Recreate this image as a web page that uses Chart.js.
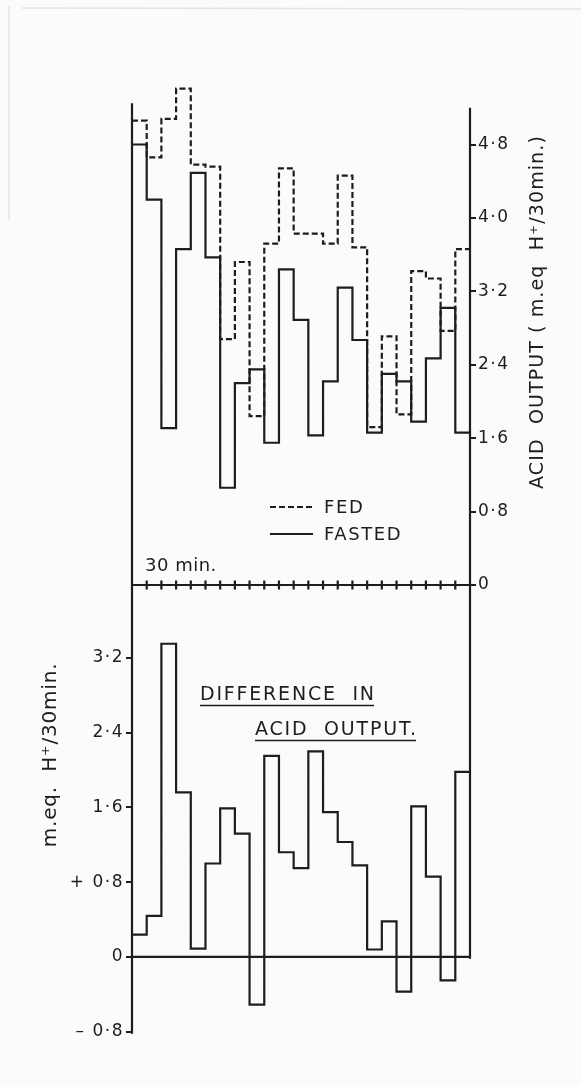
<!DOCTYPE html>
<html>
<head>
<meta charset="utf-8">
<script src="https://cdn.jsdelivr.net/npm/chart.js@4"></script>
<style>
  html, body { margin: 0; padding: 0; background: #fbfbfa; }
  canvas { display: block; }
</style>
</head>
<body>
<canvas id="chart" width="581" height="1086"></canvas>
<script>
// number of 30 min collection periods
const periods = 23;

// acid output per period, m.eq. H+ / 30 min
const fed        = [5.06, 4.66, 5.08, 5.41, 4.58, 4.56, 2.68, 3.52, 1.84, 3.72, 4.54, 3.83, 3.83, 3.72, 4.46, 3.68, 1.72, 2.71, 1.86, 3.42, 3.34, 2.77, 3.66];
const fasted     = [4.80, 4.20, 1.71, 3.66, 4.49, 3.57, 1.06, 2.20, 2.35, 1.55, 3.44, 2.89, 1.63, 2.22, 3.24, 2.67, 1.66, 2.30, 2.22, 1.78, 2.47, 3.02, 1.66];
const difference = [0.24, 0.44, 3.35, 1.76, 0.09, 1.00, 1.59, 1.32, -0.51, 2.15, 1.12, 0.95, 2.20, 1.55, 1.23, 0.98, 0.08, 0.38, -0.37, 1.61, 0.86, -0.25, 1.98];

const outputTicks      = [0, 0.8, 1.6, 2.4, 3.2, 4.0, 4.8];
const outputTickLabels = ['0', '0·8', '1·6', '2·4', '3·2', '4·0', '4·8'];
const diffTicks        = [-0.8, 0, 0.8, 1.6, 2.4, 3.2];
const diffTickLabels   = ['– 0·8', '0', '+ 0·8', '1·6', '2·4', '3·2'];

const INK = '#1d1d1d';
const FONT = '"DejaVu Sans", sans-serif';

// step line: each value holds for its whole period
function steps(values) {
  const pts = values.map((v, i) => ({ x: i, y: v }));
  pts.push({ x: values.length, y: values[values.length - 1] });
  return pts;
}

function text(ctx, str, x, y, size, opts) {
  opts = opts || {};
  ctx.save();
  ctx.translate(x, y);
  if (opts.rotate) ctx.rotate(opts.rotate);
  ctx.font = size + 'px ' + FONT;
  ctx.letterSpacing = (opts.spacing || 0) + 'px';
  ctx.fillStyle = INK;
  ctx.textAlign = opts.align || 'left';
  ctx.textBaseline = 'middle';
  ctx.fillText(str, 0, 0);
  const w = ctx.measureText(str).width;
  if (opts.underline) {
    let x0 = 0;
    if (opts.align === 'center') x0 = -w / 2;
    ctx.strokeStyle = INK;
    ctx.lineWidth = 1.6;
    ctx.beginPath();
    ctx.moveTo(x0, size * 0.55);
    ctx.lineTo(x0 + w - (opts.spacing || 0), size * 0.55);
    ctx.stroke();
  }
  ctx.restore();
}

const framePlugin = {
  id: 'frame',
  beforeDraw(chart) {
    const ctx = chart.ctx;
    ctx.save();
    ctx.fillStyle = '#fbfbfa';
    ctx.fillRect(0, 0, chart.width, chart.height);
    // faint edge of the page
    ctx.strokeStyle = '#e4e4e4';
    ctx.lineWidth = 1.5;
    ctx.beginPath();
    ctx.moveTo(22, 8); ctx.lineTo(chart.width, 9);
    ctx.moveTo(9, 6); ctx.lineTo(9, 220);
    ctx.stroke();
    ctx.restore();
    // wider spacing for the axis numbers
    ctx.letterSpacing = '1.5px';
  },
  afterDatasetsDraw(chart) {
    const ctx = chart.ctx;
    ctx.letterSpacing = '0px';
    const { left, right } = chart.chartArea;
    const x = chart.scales.x, yOut = chart.scales.yOut, yDiff = chart.scales.yDiff;

    ctx.save();
    ctx.strokeStyle = INK;
    ctx.lineWidth = 2.2;
    ctx.lineCap = 'butt';
    ctx.beginPath();
    // left and right axis lines
    ctx.moveTo(left, yOut.getPixelForValue(5.25));
    ctx.lineTo(left, yDiff.getPixelForValue(-0.82));
    ctx.moveTo(right, yOut.getPixelForValue(5.2));
    ctx.lineTo(right, yDiff.getPixelForValue(-0.02));
    // time axis of the upper panel
    const y0 = yOut.getPixelForValue(0);
    ctx.moveTo(left, y0);
    ctx.lineTo(right, y0);
    for (let i = 1; i < periods; i++) {
      const px = x.getPixelForValue(i);
      ctx.moveTo(px, y0 - 4.5);
      ctx.lineTo(px, y0 + 4.5);
    }
    // zero line of the difference panel
    const d0 = yDiff.getPixelForValue(0);
    ctx.moveTo(left, d0);
    ctx.lineTo(right, d0);
    ctx.stroke();

    // legend
    const sets = chart.data.datasets;
    const legendRows = [{ ds: sets[0], y: 507 }, { ds: sets[1], y: 534 }];
    legendRows.forEach(row => {
      ctx.save();
      ctx.setLineDash(row.ds.borderDash || []);
      ctx.lineWidth = 2;
      ctx.beginPath();
      ctx.moveTo(270, row.y);
      ctx.lineTo(313, row.y);
      ctx.stroke();
      ctx.restore();
      text(ctx, row.ds.label, 324, row.y + 1, 18, { spacing: 1.6 });
    });
    ctx.restore();

    text(ctx, '30 min.', 145, 566, 18, { spacing: 0.5 });

    text(ctx, 'DIFFERENCE  IN', 200, 695, 19, { spacing: 1.8, underline: true });
    text(ctx, 'ACID  OUTPUT.', 255, 730, 19, { spacing: 1.8, underline: true });

    // axis titles, reading upwards
    text(ctx, 'ACID  OUTPUT ( m.eq  H⁺/30min.)', 538, 312, 19, { rotate: -Math.PI / 2, align: 'center', spacing: 1.1 });
    text(ctx, 'm.eq.  H⁺/30min.', 51, 755, 20, { rotate: -Math.PI / 2, align: 'center', spacing: 0.8 });
  },
  afterDraw(chart) {
    chart.ctx.letterSpacing = '0px';
  }
};

function tickSetter(values) {
  return scale => { scale.ticks = values.map(v => ({ value: v })); };
}

const tickStyle = {
  color: INK,
  font: { family: FONT, size: 17 },
  autoSkip: false,
  padding: 2
};
const tickGrid = {
  drawOnChartArea: false,
  drawTicks: true,
  tickLength: 6,
  color: INK,
  lineWidth: 2
};

new Chart(document.getElementById('chart'), {
  type: 'line',
  data: {
    datasets: [
      {
        label: 'FED',
        data: steps(fed),
        yAxisID: 'yOut',
        stepped: true,
        borderColor: INK,
        borderWidth: 2.2,
        borderDash: [6, 3],
        pointRadius: 0,
        fill: false
      },
      {
        label: 'FASTED',
        data: steps(fasted),
        yAxisID: 'yOut',
        stepped: true,
        borderColor: INK,
        borderWidth: 2.2,
        pointRadius: 0,
        fill: false
      },
      {
        label: 'DIFFERENCE IN ACID OUTPUT',
        data: steps(difference),
        yAxisID: 'yDiff',
        stepped: true,
        borderColor: INK,
        borderWidth: 2.2,
        pointRadius: 0,
        fill: false
      }
    ]
  },
  options: {
    responsive: false,
    animation: false,
    events: [],
    layout: { padding: { top: 80, bottom: 36, left: 0, right: 0 } },
    plugins: { legend: { display: false }, tooltip: { enabled: false } },
    scales: {
      x: { type: 'linear', min: 0, max: periods, display: false },
      yOut: {
        position: 'right',
        min: -5.067,
        max: 5.503,
        afterBuildTicks: tickSetter(outputTicks),
        afterFit: s => { s.width = 111; },
        border: { display: false },
        grid: tickGrid,
        ticks: Object.assign({}, tickStyle, {
          callback: v => outputTickLabels[outputTicks.indexOf(v)]
        })
      },
      yDiff: {
        position: 'left',
        min: -0.995,
        max: 9.38,
        afterBuildTicks: tickSetter(diffTicks),
        afterFit: s => { s.width = 132; },
        border: { display: false },
        grid: tickGrid,
        ticks: Object.assign({}, tickStyle, {
          callback: v => diffTickLabels[diffTicks.indexOf(v)]
        })
      }
    }
  },
  plugins: [framePlugin]
});
</script>
</body>
</html>
